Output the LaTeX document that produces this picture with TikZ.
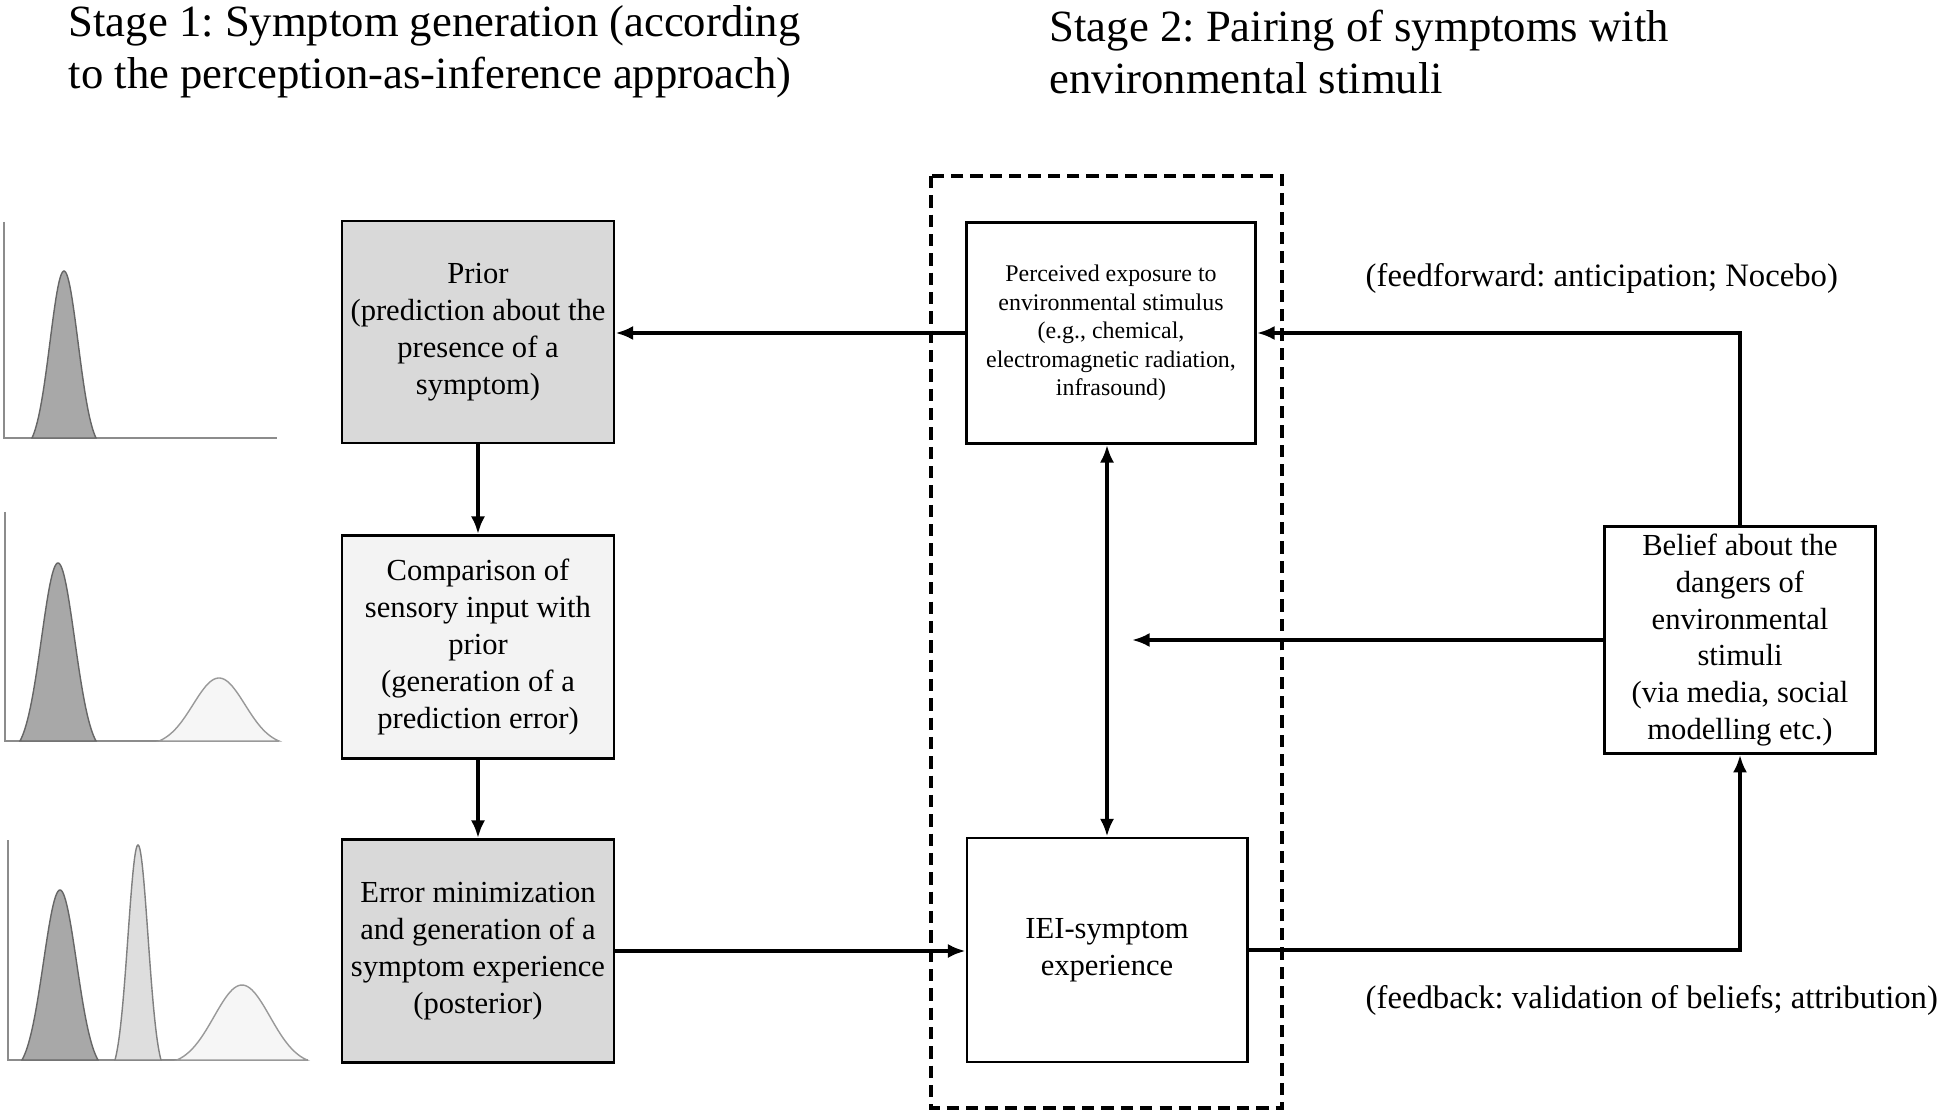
\documentclass[tikz,border=0pt]{standalone}
\usepackage{fontspec}
\setmainfont{Liberation Serif}
\frenchspacing
\usetikzlibrary{arrows.meta}

\definecolor{boxgray}{HTML}{D9D9D9}
\definecolor{boxlight}{HTML}{F3F3F3}
\definecolor{bumpdark}{HTML}{A8A8A8}
\definecolor{bumpmid}{HTML}{DEDEDE}
\definecolor{bumplight}{HTML}{F6F6F6}

% bell curve: centre, half base, sigma, height, axis y, style
\newcommand{\bell}[6]{%
	\filldraw[#6] plot[domain={#1-#2}:{#1+#2}, samples=60]
		(\x, {#5-#4*(exp(-((\x-#1)/#3)^2/2)-exp(-(#2/#3)^2/2))/(1-exp(-(#2/#3)^2/2))}) -- cycle;}

\tikzset{
	box/.style={draw, line width=0.8pt, align=center, inner sep=2pt, font=\fontsize{8.7}{10.5}\selectfont},
	arr/.style={-{Latex[length=5pt,width=4pt]}, line width=1.1pt},
	title/.style={align=left, inner sep=0pt, font=\fontsize{12.7}{14.8}\selectfont},
	note/.style={inner sep=0pt, font=\fontsize{9.3}{11}\selectfont},
	axis/.style={draw=black!45, line width=0.5pt},
	dark/.style={fill=bumpdark, draw=black!60},
	mid/.style={fill=bumpmid, draw=black!50},
	light/.style={fill=bumplight, draw=black!40},
}

\begin{document}
\begin{tikzpicture}[x=0.01cm, y=-0.01cm]
	\useasboundingbox (0,0) rectangle (1946,1116);

	% titles
	\node[title, anchor=west] (stage1) at (68,52) {Stage 1: Symptom generation (according\\to the perception-as-inference approach)};
	\node[title, anchor=west] (stage2) at (1049,52) {Stage 2: Pairing of symptoms with\\environmental stimuli};

	% distributions
	\draw[axis] (4,222) -- (4,438) -- (277,438);
	\bell{64}{32}{14}{167}{438}{dark}

	\draw[axis] (5,512) -- (5,741) -- (279,741);
	\bell{58}{38}{16.5}{178}{741}{dark}
	\bell{219}{60}{26}{63}{741}{light}

	\draw[axis] (8,840) -- (8,1060) -- (308,1060);
	\bell{60}{38}{16.5}{170}{1060}{dark}
	\bell{138}{23}{10}{215}{1060}{mid}
	\bell{242}{65}{28}{75}{1060}{light}

	% stage 1 boxes
	\node[box, fill=boxgray, minimum width=2.72cm, minimum height=2.22cm] (prior) at (478,332) {Prior\\(prediction about the\\presence of a\\symptom)};
	\node[box, fill=boxlight, minimum width=2.72cm, minimum height=2.23cm] (comp) at (478,647) {Comparison of\\sensory input with\\prior\\(generation of a\\prediction error)};
	\node[box, fill=boxgray, minimum width=2.72cm, minimum height=2.23cm] (error) at (478,951) {Error minimization\\and generation of a\\symptom experience\\(posterior)};

	% stage 2
	\draw[line width=1.3pt, dash pattern=on 3.5pt off 2pt] (931,176) rectangle (1282,1108);
	\node[box, font=\fontsize{6.8}{8.1}\selectfont, minimum width=2.89cm, minimum height=2.21cm] (perc) at (1111,333) {Perceived exposure to\\environmental stimulus\\(e.g., chemical,\\electromagnetic radiation,\\infrasound)};
	\node[box, minimum width=2.80cm, minimum height=2.24cm] (iei) at (1107,950) {IEI-symptom\\experience};
	\node[box, minimum width=2.71cm, minimum height=2.23cm] (belief) at (1740,640) {Belief about the\\dangers of\\environmental\\stimuli\\(via media, social\\modelling etc.)};
	\coordinate (mid) at (1132,640);

	\node[note, anchor=west] (ffwd) at (1365,278) {(feedforward: anticipation; Nocebo)};
	\node[note, anchor=west] (fback) at (1365,1000) {(feedback: validation of beliefs; attribution)};

	% connectors
	\draw[arr] (prior) -- (comp);
	\draw[arr] (comp) -- (error);
	\draw[arr] (perc.west) -- (prior.east |- perc.west);
	\draw[arr] (error.east) -- (iei.west |- error.east);
	\draw[arr, {Latex[length=5pt,width=4pt]}-{Latex[length=5pt,width=4pt]}] (perc.south -| iei.north) -- (iei.north);
	\draw[arr] (belief.west) -- (mid);
	\draw[arr] (belief.north) |- (perc.east);
	\draw[arr] (iei.east) -| (belief.south);
\end{tikzpicture}
\end{document}
